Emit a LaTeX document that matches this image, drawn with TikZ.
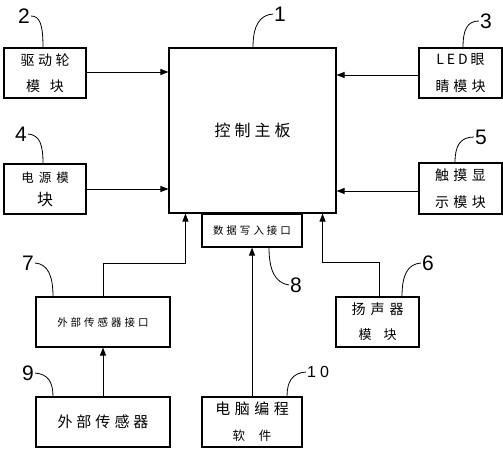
\documentclass[tikz,border=0pt]{standalone}
\usepackage{fontspec}
\setmainfont{Noto Sans CJK SC}
\newfontfamily\numfont{Liberation Sans}
\usetikzlibrary{arrows.meta}
\makeatletter
\newcommand\ls[2]{\def\ls@sep{}\@tfor\ls@c:=#2\do{\ls@sep\ls@c\def\ls@sep{\hspace{#1}}}}
\makeatother
\newcommand\fs[2]{\fontsize{#1}{#2}\selectfont}
\begin{document}
\begin{tikzpicture}[x=1pt,y=-1pt,
  box/.style={draw, line width=1.1pt, inner sep=0pt, align=center},
  arr/.style={-{Triangle[length=8pt,width=6pt]}, line width=0.9pt},
  lead/.style={line width=0.8pt},
  num/.style={font=\numfont\fs{21}{21}, inner sep=0pt}]
\useasboundingbox (0,0) rectangle (503,450);
\fill[white] (0,0) rectangle (503,450);

% boxes
\node[box, minimum width=167pt, minimum height=165pt, font=\fs{16}{20}] (main) at (252.5,130.5)
  {\ls{4pt}{控制主板}};
\node[box, minimum width=82pt, minimum height=50pt, font=\fs{14}{26}] (b2) at (45,73)
  {\ls{3.5pt}{驱动轮}\\\ls{10pt}{模块}};
\node[box, minimum width=83pt, minimum height=50pt, font=\fs{14}{26}] (b3) at (460.5,73)
  {\ls{3pt}{LED}\hspace{3pt}眼\\\ls{4pt}{睛模块}};
\node[box, minimum width=82pt, minimum height=50pt, font=\fs{12.5}{23}] (b4) at (45,189)
  {\ls{5pt}{电源模}\\\fs{16}{23}块};
\node[box, minimum width=83pt, minimum height=51pt, font=\fs{14}{27}] (b5) at (460.5,188.5)
  {\ls{4.5pt}{触摸显}\\\ls{4.5pt}{示模块}};
\node[box, minimum width=100pt, minimum height=33pt, font=\fs{10.5}{12}] (b8) at (252,230.5)
  {\ls{3pt}{数据写入接口}};
\node[box, minimum width=134pt, minimum height=50pt, font=\fs{10.5}{12}] (b7) at (103,322)
  {\ls{3pt}{外部传感器接口}};
\node[box, minimum width=134pt, minimum height=50pt, font=\fs{15}{18}] (b9) at (103,422)
  {\ls{4pt}{外部传感器}};
\node[box, minimum width=100pt, minimum height=50pt, font=\fs{15}{26}] (b10) at (252,422)
  {\ls{4.5pt}{电脑编程}\\\fs{12.5}{26}\ls{14pt}{软件}};
\node[box, minimum width=83pt, minimum height=50pt, font=\fs{14}{25}] (b6) at (377.5,322)
  {\ls{5pt}{扬声器}\\\fs{13}{25}\ls{12pt}{模块}};

% connectors
\draw[arr] ([yshift=1pt]b2.east) -- ([yshift=1pt]main.west |- b2.east);
\draw[arr] ([yshift=-2pt]b3.west) -- ([yshift=-2pt]main.east |- b3.west);
\draw[arr] (b4.east) -- (main.west |- b4.east);
\draw[arr] ([yshift=-2.5pt]b5.west) -- ([yshift=-2.5pt]main.east |- b5.west);
\draw[arr] (b7.north) -- ++(0,-33) -| ([xshift=17pt]main.south west);
\draw[arr] ([xshift=1.5pt]b6.north) -- ++(0,-34) -| ([xshift=-14pt]main.south east);
\draw[arr] (b9.north) -- (b7.south);
\draw[arr] (b10.north) -- (b8.south);

% labels
\node[num] (l1) at (280,14) {1};
\node[num] (l2) at (24,16) {2};
\node[num] (l3) at (486,21) {3};
\node[num] (l4) at (21,134) {4};
\node[num] (l5) at (481,137) {5};
\node[num] (l6) at (428,263) {6};
\node[num] (l7) at (28,263) {7};
\node[num] (l8) at (296,285) {8};
\node[num] (l9) at (28,373) {9};
\node[num, font=\numfont\fs{16}{16}] (l10) at (318,372) {1\hspace{4pt}0};

\draw[lead] ([xshift=0.5pt]main.north) .. controls (253,25) and (260,15) .. ([xshift=-1pt]l1.west);
\draw[lead] ([xshift=-2pt]b2.north) .. controls (43,25) and (40,16) .. ([xshift=1pt]l2.east);
\draw[lead] ([xshift=2.5pt]b3.north) .. controls (463,30) and (467,21) .. ([xshift=-1pt]l3.west);
\draw[lead] ([xshift=-2pt]b4.north) .. controls (43,145) and (40,135) .. ([xshift=1pt]l4.east);
\draw[lead] ([xshift=-5.5pt]b5.north) .. controls (455,146) and (460,137) .. ([xshift=-1pt]l5.west);
\draw[lead] ([xshift=24.5pt]b6.north) .. controls (402,276) and (407,264) .. ([xshift=-1pt]l6.west);
\draw[lead] ([xshift=-50pt]b7.north) .. controls (53,276) and (48,264) .. ([xshift=1pt]l7.east);
\draw[lead] ([xshift=-50pt]b9.north) .. controls (53,382) and (48,374) .. ([xshift=1pt]l9.east);
\draw[lead] ([xshift=35pt]b10.north) .. controls (287,382) and (292,373) .. ([xshift=-1pt]l10.west);
\draw[lead] ([xshift=17pt]b8.south) .. controls (269,270) and (275,283) .. ([xshift=-1pt]l8.west);
\end{tikzpicture}
\end{document}
